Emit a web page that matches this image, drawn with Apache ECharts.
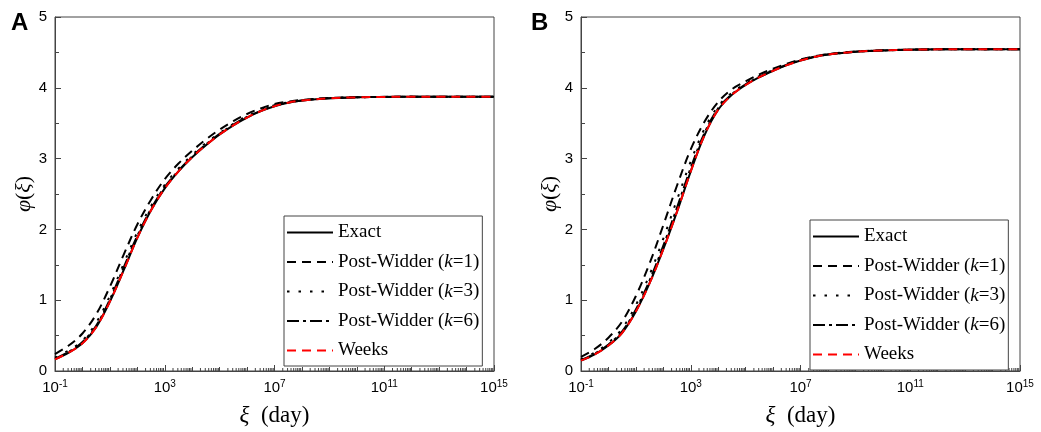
<!DOCTYPE html>
<html><head><meta charset="utf-8">
<script src="https://cdn.jsdelivr.net/npm/echarts@6/dist/echarts.min.js"></script>
<style>html,body{margin:0;padding:0;background:#fff}#c{width:1041px;height:432px}</style>
</head><body><div id="c"></div>
<script>
// log10 of xi (day) at which the curves were read
const xiExp = [-1,-0.5,0,0.5,1,1.5,2,2.5,3,3.5,4,4.5,5,5.5,6,6.5,7,7.5,8,9,10,11,12,13,14,15];
// Panel A
const exactA = [0.165,0.26,0.39,0.62,0.98,1.42,1.88,2.27,2.58,2.82,3.02,3.19,3.34,3.47,3.58,3.67,3.74,3.79,3.82,3.852,3.865,3.871,3.873,3.874,3.874,3.874];
const pw1A   = [0.24,0.36,0.53,0.8,1.19,1.64,2.07,2.42,2.71,2.93,3.11,3.27,3.41,3.53,3.63,3.71,3.77,3.805,3.83,3.856,3.867,3.872,3.873,3.874,3.874,3.874];
const pw3A   = [0.19,0.29,0.43,0.68,1.06,1.51,1.96,2.33,2.63,2.86,3.05,3.22,3.36,3.49,3.6,3.685,3.755,3.795,3.823,3.853,3.866,3.871,3.873,3.874,3.874,3.874];
const pw6A   = [0.175,0.27,0.41,0.64,1.01,1.46,1.91,2.29,2.6,2.83,3.03,3.2,3.35,3.48,3.59,3.675,3.745,3.792,3.821,3.852,3.865,3.871,3.873,3.874,3.874,3.874];
const weeksA = [0.165,0.26,0.39,0.62,0.98,1.42,1.88,2.27,2.58,2.82,3.02,3.19,3.34,3.47,3.58,3.67,3.74,3.79,3.82,3.852,3.865,3.871,3.873,3.874,3.874,3.874];
// Panel B
const exactB = [0.146,0.235,0.36,0.54,0.84,1.24,1.72,2.25,2.82,3.33,3.69,3.9,4.04,4.15,4.24,4.32,4.385,4.435,4.47,4.51,4.527,4.538,4.543,4.545,4.545,4.545];
const pw1B   = [0.2,0.31,0.47,0.7,1.06,1.52,2.06,2.62,3.13,3.52,3.8,3.98,4.09,4.19,4.27,4.34,4.4,4.445,4.478,4.513,4.529,4.539,4.543,4.545,4.545,4.545];
const pw3B   = [0.165,0.26,0.4,0.6,0.93,1.36,1.87,2.42,2.96,3.42,3.74,3.93,4.06,4.165,4.25,4.33,4.39,4.44,4.473,4.511,4.528,4.538,4.543,4.545,4.545,4.545];
const pw6B   = [0.155,0.245,0.375,0.56,0.87,1.28,1.77,2.31,2.87,3.36,3.71,3.91,4.05,4.155,4.245,4.325,4.388,4.437,4.471,4.51,4.527,4.538,4.543,4.545,4.545,4.545];
const weeksB = [0.146,0.235,0.36,0.54,0.84,1.24,1.72,2.25,2.82,3.33,3.69,3.9,4.04,4.15,4.24,4.32,4.385,4.435,4.47,4.51,4.527,4.538,4.543,4.545,4.545,4.545];
// ticks / labels
const xTickExps = [-1,3,7,11,15];
const yTicks = [0,1,2,3,4,5];
const seriesNames = ['Exact','Post-Widder (k=1)','Post-Widder (k=3)','Post-Widder (k=6)','Weeks'];
const panelLabels = ['A','B'];

const serif = '"Liberation Serif","Times New Roman",serif';
const sans = '"Liberation Sans",Arial,sans-serif';
const axisColor = '#444';
const lineStyles = [
  {color:'#000', type:'solid'},
  {color:'#000', type:[9,6]},
  {color:'#000', type:[2.5,9]},
  {color:'#000', type:[12,4,3,4]},
  {color:'#ff0000', type:[9,6]}
];
const grids = [
  {left:55, top:17, width:439, height:354},
  {left:581, top:17, width:439, height:354}
];

function mkX(gi){
  return {
    gridIndex:gi, type:'value', min:xTickExps[0], max:xTickExps[xTickExps.length-1],
    interval:xTickExps[1]-xTickExps[0],
    axisLine:{show:true, onZero:false, lineStyle:{color:axisColor, width:1}},
    axisTick:{show:true, inside:true, length:6, lineStyle:{color:axisColor}},
    minorTick:{show:true, splitNumber:4, length:4, lineStyle:{color:axisColor}},
    splitLine:{show:false},
    axisLabel:{margin:8, formatter:v=>'{b|10}{s|'+v+'}',
      rich:{b:{fontFamily:sans,fontSize:15,color:'#000'}, s:{fontFamily:sans,fontSize:10,color:'#000',padding:[0,0,8,0]}}},
    name:'{i|ξ}  (day)', nameLocation:'middle', nameGap:33,
    nameTextStyle:{fontFamily:serif,fontSize:23,color:'#000',
      rich:{i:{fontFamily:serif,fontStyle:'italic',fontSize:23,color:'#000'}}}
  };
}
function mkY(gi){
  return {
    gridIndex:gi, type:'value', min:yTicks[0], max:yTicks[yTicks.length-1], interval:1,
    axisLine:{show:true, onZero:false, lineStyle:{color:axisColor, width:1}},
    axisTick:{show:true, inside:true, length:6, lineStyle:{color:axisColor}},
    minorTick:{show:true, splitNumber:2, length:4, lineStyle:{color:axisColor}},
    splitLine:{show:false},
    axisLabel:{margin:8, fontFamily:sans, fontSize:15, color:'#000'},
    name:'{i|φ}({i|ξ})', nameLocation:'middle', nameGap:20, nameRotate:90,
    nameTextStyle:{fontFamily:serif,fontSize:22,color:'#000',
      rich:{i:{fontFamily:serif,fontStyle:'italic',fontSize:22,color:'#000'}}}
  };
}
function mkSeries(gi, arrs){
  return arrs.map((arr,i)=>({
    name:seriesNames[i], type:'line', xAxisIndex:gi, yAxisIndex:gi,
    data:xiExp.map((x,j)=>[x, arr[j]]), smooth:0.35,
    symbol:'none', showSymbol:false, animation:false, z:3+i,
    lineStyle:{color:lineStyles[i].color, width:2, type:lineStyles[i].type},
    itemStyle:{color:lineStyles[i].color}
  }));
}
// sub-decade minor ticks (2..9 within each decade) placed via the axis scale
const subTicks = [];
for (let n = xTickExps[0]; n < xTickExps[xTickExps.length-1]; n++)
  for (let m = 2; m <= 9; m++) subTicks.push([n + Math.log10(m), 0]);
function mkSubTicks(gi){
  return {
    type:'custom', xAxisIndex:gi, yAxisIndex:gi, data:subTicks, silent:true, clip:false,
    animation:false, z:1,
    renderItem:(p,api)=>{
      const c = api.coord([api.value(0), 0]);
      return {type:'line', shape:{x1:c[0],y1:c[1],x2:c[0],y2:c[1]-3}, style:{stroke:axisColor,lineWidth:1}};
    }
  };
}
function mkLegend(left, top){
  return {
    left, top, orient:'vertical', data:seriesNames, itemWidth:46, itemHeight:14, itemGap:10.5,
    padding:[7,3,6,2], borderColor:axisColor, borderWidth:1, backgroundColor:'#fff',
    selectedMode:false, itemStyle:{opacity:0, borderWidth:0},
    textStyle:{fontFamily:serif,fontSize:19,color:'#000',
      rich:{i:{fontFamily:serif,fontStyle:'italic',fontSize:19,color:'#000'}}},
    formatter:n=>n.replace('(k=','({i|k}=')
  };
}

const chart = echarts.init(document.getElementById('c'));
chart.setOption({
  backgroundColor:'#fff',
  animation:false,
  grid:grids.map(g=>Object.assign({show:true, borderColor:axisColor, borderWidth:1, backgroundColor:'transparent'}, g)),
  xAxis:[mkX(0), mkX(1)],
  yAxis:[mkY(0), mkY(1)],
  legend:[mkLegend(284,216), mkLegend(810,220)],
  graphic:[
    {type:'text', left:11, top:11, style:{text:panelLabels[0], font:'bold 24px "Liberation Sans", Arial, sans-serif', fill:'#000'}},
    {type:'text', left:531, top:11, style:{text:panelLabels[1], font:'bold 24px "Liberation Sans", Arial, sans-serif', fill:'#000'}}
  ],
  series:[
    mkSubTicks(0), mkSubTicks(1),
    ...mkSeries(0,[exactA,pw1A,pw3A,pw6A,weeksA]),
    ...mkSeries(1,[exactB,pw1B,pw3B,pw6B,weeksB])
  ]
});
</script>
</body></html>
